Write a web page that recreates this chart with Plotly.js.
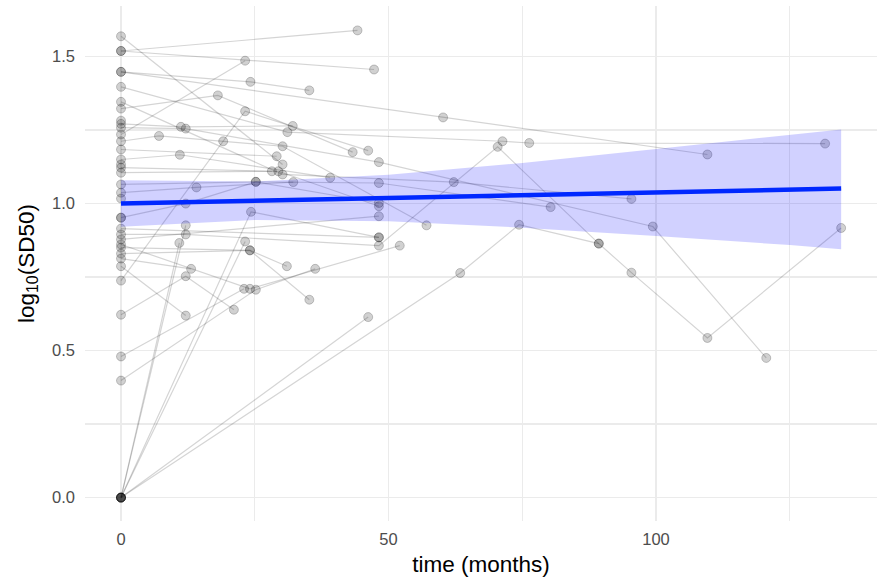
<!DOCTYPE html>
<html>
<head>
<meta charset="utf-8">
<script src="https://cdn.plot.ly/plotly-3.0.1.min.js"></script>
<style>html,body{margin:0;padding:0;background:#fff;}#chart{width:881px;height:577px;}</style>
</head>
<body>
<div id="chart"></div>
<script>
// Per-subject follow-up times (months)
const subjectTimes = [
  [0, 44.2],
  [0, 47.3],
  [0, 60.2, 109.6],
  [0, 24.2, 35.2],
  [0, 30.2],
  [0, 31.1, 71.3, 76.3, 131.6],
  [0, 18.1, 43.3],
  [0, 23.2],
  [0, 19.1, 23.2, 46.2],
  [0, 11.2, 32.1],
  [0, 12.1, 48.2, 99.4, 120.6],
  [0, 7.1, 30.2, 57.1],
  [0, 11.0, 39.1],
  [0, 29.1],
  [0, 30.2, 62.2, 95.4],
  [0, 28.2],
  [0, 29.4, 48.2],
  [0, 14.1, 32.2],
  [0, 12.1, 25.2, 48.2],
  [0, 25.2, 48.2, 80.3],
  [0, 24.3, 48.2],
  [0, 12.1],
  [0, 23.2],
  [0, 12.1, 48.2, 70.4, 89.3],
  [0, 63.4, 74.4, 89.3, 95.4, 109.6, 134.6],
  [0, 46.2],
  [0, 10.9],
  [0, 24.1, 31.0],
  [0, 24.1, 35.2],
  [0, 13.1],
  [0, 12.1, 21.1],
  [0, 12.1],
  [0, 23.0],
  [0, 25.2, 36.3],
  [0, 24.1, 52.1],
  [0, 48.2],
  [0, 48.2],
  [0],
  [0],
  [0],
  [0]
];
// Per-subject log10(SD50) values
const subjectValues = [
  [1.519, 1.589],
  [1.519, 1.456],
  [1.448, 1.293, 1.167],
  [1.448, 1.414, 1.385],
  [1.569, 1.133],
  [1.397, 1.243, 1.212, 1.206, 1.204],
  [1.323, 1.368, 1.175],
  [1.235, 1.486],
  [0.738, 1.212, 1.314, 1.180],
  [1.271, 1.261, 1.264],
  [1.258, 1.255, 1.141, 0.922, 0.475],
  [1.212, 1.230, 1.195, 0.926],
  [1.150, 1.166, 1.088],
  [1.184, 1.161],
  [1.346, 1.099, 1.073, 1.016],
  [1.122, 1.110],
  [1.105, 1.110, 0.991],
  [1.037, 1.055, 1.073],
  [0.952, 1.000, 1.074, 1.002],
  [1.065, 1.074, 1.070, 0.988],
  [0, 0.972, 0.885],
  [0, 0.926],
  [0, 0.871],
  [0.895, 0.895, 0.857, 1.193, 0.864],
  [0, 0.764, 0.928, 0.864, 0.765, 0.543, 0.917],
  [0, 0.614],
  [0, 0.866],
  [0.850, 0.841, 0.787],
  [0.830, 0.841, 0.673],
  [0.813, 0.778],
  [0.622, 0.753, 0.639],
  [0.787, 0.619],
  [0.480, 0.710],
  [0.398, 0.707, 0.778],
  [0.861, 0.710, 0.857],
  [0.878, 0.957],
  [0.915, 0.885],
  [1.282],
  [1.133],
  [1.017],
  [0.952]
];
// Linear fit and 95% band
const fitX = [0, 25, 50, 75, 100, 125, 134.6];
const fitY = [1.000, 1.0095, 1.019, 1.028, 1.038, 1.047, 1.051];
const fitUpper = [1.079, 1.075, 1.098, 1.138, 1.186, 1.235, 1.252];
const fitLower = [0.921, 0.944, 0.940, 0.918, 0.890, 0.859, 0.845];
// Axis ticks
const xTicks = [0, 50, 100];
const yTicks = [0.0, 0.5, 1.0, 1.5];

const lineX = [], lineY = [], ptX = [], ptY = [];
subjectTimes.forEach((ts, i) => {
  ts.forEach((t, j) => { lineX.push(t); lineY.push(subjectValues[i][j]); ptX.push(t); ptY.push(subjectValues[i][j]); });
  lineX.push(null); lineY.push(null);
});

const traces = [
  {x: lineX, y: lineY, mode: 'lines', type: 'scatter', connectgaps: false,
   line: {color: 'rgba(0,0,0,0.17)', width: 1.2}, hoverinfo: 'skip'},
  {x: ptX, y: ptY, mode: 'markers', type: 'scatter',
   marker: {size: 9, color: 'rgba(0,0,0,0.18)', line: {color: 'rgba(0,0,0,0.2)', width: 1}}},
  {x: fitX.concat(fitX.slice().reverse()), y: fitUpper.concat(fitLower.slice().reverse()),
   mode: 'lines', type: 'scatter', fill: 'toself', fillcolor: 'rgba(0,0,255,0.18)', line: {width: 0}, hoverinfo: 'skip'},
  {x: fitX, y: fitY, mode: 'lines', type: 'scatter', line: {color: '#0028ff', width: 4.5}}
];

const gridC = '#ebebeb';
const layout = {
  width: 881, height: 577,
  margin: {l: 85, r: 4, t: 6, b: 56},
  paper_bgcolor: '#fff', plot_bgcolor: '#fff',
  showlegend: false,
  font: {family: 'Liberation Sans, Arial, sans-serif', color: '#4d4d4d', size: 16},
  xaxis: {
    range: [-6.73, 141.3], tickvals: xTicks, ticktext: xTicks.map(String),
    showgrid: true, gridcolor: gridC, gridwidth: 1.3, zeroline: false, showline: false, ticks: '',
    minor: {dtick: 25, tick0: 0, showgrid: true, gridcolor: gridC, gridwidth: 1.3},
    tickfont: {size: 16.5, color: '#4d4d4d'}, ticklabelstandoff: 6,
    title: {text: 'time (months)', font: {size: 22.5, color: '#000'}, standoff: 10}
  },
  yaxis: {
    range: [-0.0796, 1.672], tickvals: yTicks, ticktext: yTicks.map(v => v.toFixed(1)),
    showgrid: true, gridcolor: gridC, gridwidth: 1.3, zeroline: false, showline: false, ticks: '',
    minor: {dtick: 0.25, tick0: 0, showgrid: true, gridcolor: gridC, gridwidth: 1.3},
    tickfont: {size: 16.5, color: '#4d4d4d'}, ticklabelstandoff: 9,
    title: {text: 'log<sub>10</sub>(SD50)', font: {size: 22.5, color: '#000'}, standoff: 11}
  }
};
Plotly.newPlot('chart', traces, layout, {displayModeBar: false, staticPlot: true});
</script>
</body>
</html>
